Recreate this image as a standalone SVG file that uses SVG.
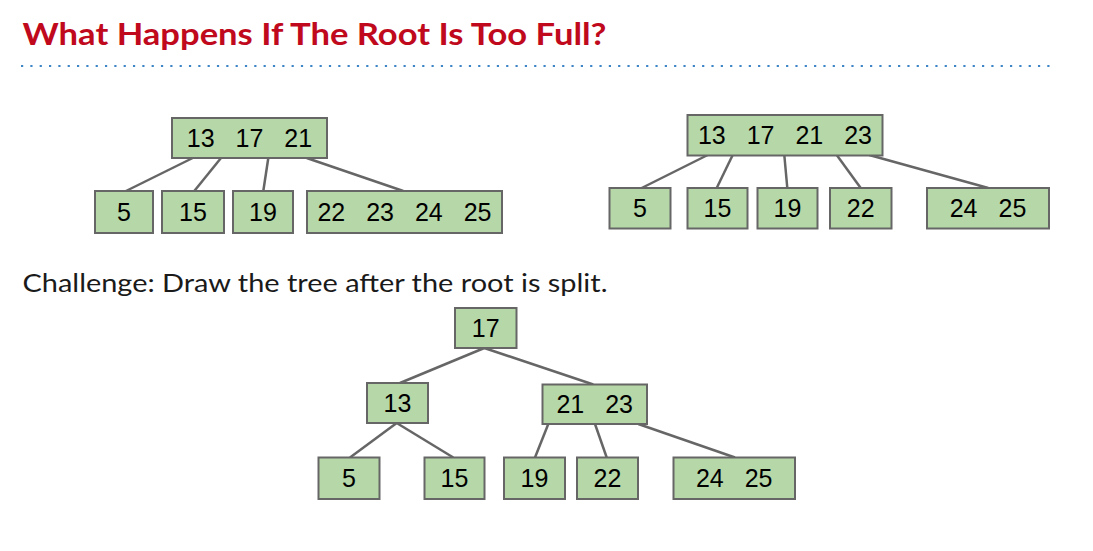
<svg xmlns="http://www.w3.org/2000/svg" width="1093" height="551" viewBox="0 0 1093 551">
<style>
.box{fill:#b6d7a8;stroke:#666666;stroke-width:2}
.lbl{font-family:"Liberation Sans",Arial,sans-serif;font-size:25px;fill:#000;text-anchor:middle;word-spacing:14px}
.edge{stroke:#666666;stroke-width:2.5;fill:none}
.title{font-family:Lato,"Open Sans",sans-serif;font-weight:bold;font-size:31px;fill:#c0091c}
.body{font-family:Lato,"Open Sans",sans-serif;font-size:25.5px;fill:#1a1a1a}
</style>
<rect width="1093" height="551" fill="#ffffff"/>
<text class="title" x="22.5" y="45" textLength="584" lengthAdjust="spacingAndGlyphs">What Happens If The Root Is Too Full?</text>
<line x1="21" y1="66" x2="1056" y2="66" stroke="#3d85c6" stroke-width="2.2" stroke-dasharray="2.2 7.13"/>
<text class="body" x="22.5" y="291.5" textLength="585" lengthAdjust="spacingAndGlyphs">Challenge: Draw the tree after the root is split.</text>

<g id="connectors">
  <line class="edge" x1="192.7" y1="158" x2="126" y2="191"/>
  <line class="edge" x1="221" y1="158" x2="194.3" y2="191"/>
  <line class="edge" x1="268.3" y1="158" x2="263.3" y2="191"/>
  <line class="edge" x1="306.7" y1="158" x2="403.3" y2="191"/>

  <line class="edge" x1="707.7" y1="155" x2="641.7" y2="188"/>
  <line class="edge" x1="732.7" y1="155" x2="716.7" y2="188"/>
  <line class="edge" x1="784.3" y1="155" x2="787.3" y2="188"/>
  <line class="edge" x1="836.7" y1="155" x2="860.7" y2="188"/>
  <line class="edge" x1="869.3" y1="155" x2="988.3" y2="188"/>

  <line class="edge" x1="484.3" y1="348" x2="400" y2="383"/>
  <line class="edge" x1="484.3" y1="348" x2="593.3" y2="384.5"/>
  <line class="edge" x1="396.7" y1="423" x2="350" y2="457.5"/>
  <line class="edge" x1="396.7" y1="423" x2="453.3" y2="457.5"/>
  <line class="edge" x1="548.3" y1="424" x2="535" y2="457.5"/>
  <line class="edge" x1="595" y1="424" x2="606.7" y2="457.5"/>
  <line class="edge" x1="638.3" y1="424" x2="735" y2="457.5"/>
</g>

<g id="t1-root"><rect class="box" x="172" y="118" width="155" height="40"/><text class="lbl" x="249.5" y="147">13 17 21</text></g>
<g id="t1-5"><rect class="box" x="95" y="191" width="58" height="42"/><text class="lbl" x="124" y="221">5</text></g>
<g id="t1-15"><rect class="box" x="162" y="191" width="62" height="42"/><text class="lbl" x="193" y="221">15</text></g>
<g id="t1-19"><rect class="box" x="233" y="191" width="60" height="42"/><text class="lbl" x="263" y="221">19</text></g>
<g id="t1-22"><rect class="box" x="307" y="191" width="195" height="42"/><text class="lbl" x="404.5" y="221">22 23 24 25</text></g>

<g id="t2-root"><rect class="box" x="687.5" y="115" width="195" height="40.5"/><text class="lbl" x="785" y="144">13 17 21 23</text></g>
<g id="t2-5"><rect class="box" x="609.5" y="188" width="61" height="40.5"/><text class="lbl" x="640" y="217">5</text></g>
<g id="t2-15"><rect class="box" x="687.5" y="188" width="60" height="40.5"/><text class="lbl" x="717.5" y="217">15</text></g>
<g id="t2-19"><rect class="box" x="757.5" y="188" width="60" height="40.5"/><text class="lbl" x="787.5" y="217">19</text></g>
<g id="t2-22"><rect class="box" x="830" y="188" width="61.5" height="40.5"/><text class="lbl" x="860.7" y="217">22</text></g>
<g id="t2-24"><rect class="box" x="927" y="188" width="122" height="40.5"/><text class="lbl" x="988" y="217">24 25</text></g>

<g id="t3-17"><rect class="box" x="455" y="308" width="61.5" height="40"/><text class="lbl" x="485.7" y="337">17</text></g>
<g id="t3-13"><rect class="box" x="367" y="383" width="61" height="40"/><text class="lbl" x="397.5" y="412">13</text></g>
<g id="t3-2123"><rect class="box" x="542.5" y="384.5" width="104.5" height="39.5"/><text class="lbl" x="594.7" y="413">21 23</text></g>
<g id="t3-5"><rect class="box" x="318.5" y="457.5" width="61" height="41.5"/><text class="lbl" x="349" y="487">5</text></g>
<g id="t3-15"><rect class="box" x="424.5" y="457.5" width="60" height="41.5"/><text class="lbl" x="454.5" y="487">15</text></g>
<g id="t3-19"><rect class="box" x="504" y="457.5" width="61" height="41.5"/><text class="lbl" x="534.5" y="487">19</text></g>
<g id="t3-22"><rect class="box" x="577" y="457.5" width="61" height="41.5"/><text class="lbl" x="607.5" y="487">22</text></g>
<g id="t3-2425"><rect class="box" x="673.5" y="457.5" width="121.5" height="41.5"/><text class="lbl" x="734.2" y="487">24 25</text></g>
</svg>
